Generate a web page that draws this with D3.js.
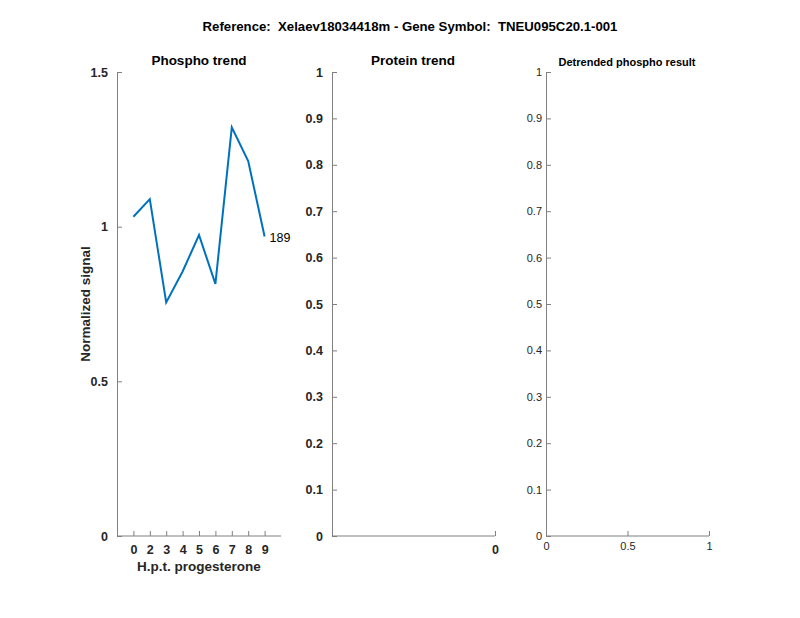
<!DOCTYPE html>
<html><head><meta charset="utf-8">
<script src="https://cdn.jsdelivr.net/npm/d3@7"></script>
<style>body{margin:0;background:#fff}svg{font-family:"Liberation Sans",Arial,Helvetica,sans-serif}text{white-space:pre}</style>
</head><body>
<svg id="c" width="800" height="618"></svg>
<script>
const mainTitle = "Reference:  Xelaev18034418m - Gene Symbol:  TNEU095C20.1-001";
const panelTitles = ["Phospho trend", "Protein trend", "Detrended phospho result"];
const timeLabels = ["0","2","3","4","5","6","7","8","9"];
const phosphoValues = [1.032, 1.089, 0.755, 0.855, 0.973, 0.815, 1.321, 1.212, 0.968];
const seriesLabel = "189";
const phosphoYTicks = [0, 0.5, 1, 1.5];
const unitYTicks = [0,0.1,0.2,0.3,0.4,0.5,0.6,0.7,0.8,0.9,1];
const proteinXTicks = [0];
const detrendXTicks = [0, 0.5, 1];

const svg = d3.select("#c");
const axisColor = "#808080", textColor = "#262626";
const plotTop = 72, plotBottom = 536;

svg.append("text").attr("x", 410).attr("y", 31).attr("text-anchor","middle")
  .attr("font-weight","bold").attr("font-size",13.2).attr("fill","#000").text(mainTitle);

function styleAxis(g, bold, fs){
  g.selectAll(".domain").attr("stroke", axisColor);
  g.selectAll(".tick line").attr("stroke", axisColor);
  g.selectAll(".tick text").attr("fill", textColor).attr("font-size", fs)
   .attr("font-weight", bold ? "bold" : "normal").attr("font-family", '"Liberation Sans",Arial,sans-serif');
}

// Panel 1
{
  const x0 = 117, x1 = 281;
  const x = d3.scaleLinear().domain([0,10]).range([x0,x1]);
  const y = d3.scaleLinear().domain([0,1.5]).range([plotBottom, plotTop]);
  const gy = svg.append("g").attr("transform",`translate(${x0},0)`)
    .call(d3.axisLeft(y).tickValues(phosphoYTicks).tickSize(-5).tickPadding(9).tickFormat(d=>d3.format("")(d)));
  styleAxis(gy, true, 12.5);
  const gx = svg.append("g").attr("transform",`translate(0,${plotBottom})`)
    .call(d3.axisBottom(x).tickValues(d3.range(1, timeLabels.length+1)).tickSize(-5).tickPadding(9).tickFormat((d,i)=>timeLabels[i]));
  gx.select(".domain").attr("d", `M${x0},0H${x1}`);
  styleAxis(gx, true, 12.5);
  const line = d3.line().x((d,i)=>x(i+1)).y(d=>y(d));
  svg.append("path").datum(phosphoValues).attr("d", line).attr("fill","none")
    .attr("stroke","#0072BD").attr("stroke-width",2);
  const last = phosphoValues.length;
  svg.append("text").attr("x", x(last)+5).attr("y", y(phosphoValues[last-1])+5)
    .attr("font-size",12.5).attr("fill","#000").text(seriesLabel);
  svg.append("text").attr("x", (x0+x1)/2).attr("y", 65).attr("text-anchor","middle")
    .attr("font-weight","bold").attr("font-size",13.5).text(panelTitles[0]);
  svg.append("text").attr("transform",`translate(90,${(plotTop+plotBottom)/2}) rotate(-90)`).attr("text-anchor","middle")
    .attr("font-weight","bold").attr("font-size",13.5).attr("fill",textColor).text("Normalized signal");
  svg.append("text").attr("x", (x0+x1)/2).attr("y", 571).attr("text-anchor","middle")
    .attr("font-weight","bold").attr("font-size",13.5).attr("fill",textColor).text("H.p.t. progesterone");
}

// Panel 2
{
  const x0 = 332, x1 = 495;
  const x = d3.scaleLinear().domain([-1,0]).range([x0,x1]);
  const y = d3.scaleLinear().domain([0,1]).range([plotBottom, plotTop]);
  const gy = svg.append("g").attr("transform",`translate(${x0},0)`)
    .call(d3.axisLeft(y).tickValues(unitYTicks).tickSize(-5).tickPadding(9).tickFormat(d3.format("")));
  styleAxis(gy, true, 12.5);
  const gx = svg.append("g").attr("transform",`translate(0,${plotBottom})`)
    .call(d3.axisBottom(x).tickValues(proteinXTicks).tickSize(-5).tickPadding(9).tickFormat(d3.format("")));
  gx.select(".domain").attr("d", `M${x0},0H${x1}`);
  styleAxis(gx, true, 12.5);
  svg.append("text").attr("x", 413).attr("y", 65).attr("text-anchor","middle")
    .attr("font-weight","bold").attr("font-size",13.5).text(panelTitles[1]);
}

// Panel 3
{
  const x0 = 546, x1 = 709;
  const x = d3.scaleLinear().domain([0,1]).range([x0,x1]);
  const y = d3.scaleLinear().domain([0,1]).range([plotBottom, plotTop]);
  const gy = svg.append("g").attr("transform",`translate(${x0},0)`)
    .call(d3.axisLeft(y).tickValues(unitYTicks).tickSize(-5).tickPadding(4).tickFormat(d3.format("")));
  styleAxis(gy, false, 11);
  const gx = svg.append("g").attr("transform",`translate(0,${plotBottom})`)
    .call(d3.axisBottom(x).tickValues(detrendXTicks).tickSize(-5).tickPadding(6).tickFormat(d3.format("")));
  gx.select(".domain").attr("d", `M${x0},0H${x1}`);
  styleAxis(gx, false, 11);
  svg.append("text").attr("x", 627).attr("y", 66).attr("text-anchor","middle")
    .attr("font-weight","bold").attr("font-size",11).text(panelTitles[2]);
}
</script>
</body></html>
